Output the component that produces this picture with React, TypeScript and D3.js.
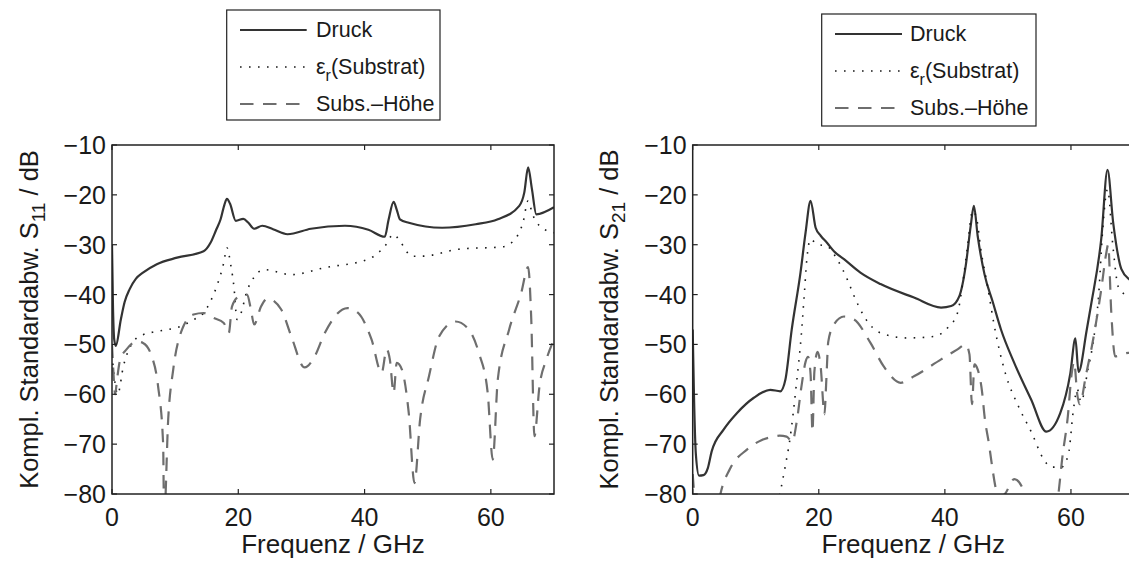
import React from 'react';
import * as d3 from 'd3';

type Pt = [number, number];

const FREQ_TICKS = [0, 20, 40, 60];
const DB_TICKS = [-10, -20, -30, -40, -50, -60, -70, -80];
const FREQ_DOMAIN: [number, number] = [0, 70];
const DB_DOMAIN: [number, number] = [-80, -10];

// ---- Left panel: S11 ----
const S11_DRUCK: Pt[] = [
  [0, -30], [0.15, -42], [0.35, -49], [0.6, -50.3], [1.4, -45], [2.0, -41.5], [2.8, -38.9], [3.8, -36.8],
  [4.9, -35.6], [7.1, -33.9], [10.3, -32.6], [14.5, -31.3], [15.6, -29.6], [16.5, -27], [17.2, -24.9],
  [17.8, -22], [18.2, -20.8], [18.7, -21.8], [19.6, -25.2], [20.8, -24.8], [21.6, -25.6], [22.5, -26.8],
  [23.8, -26.2], [25.5, -26.9], [27.8, -27.9], [31.5, -26.8], [36.9, -26.2], [40.6, -27.0], [43.2, -28.4],
  [43.8, -25], [44.6, -21.4], [45.1, -23], [45.6, -24.9], [47.0, -25.6], [52.3, -26.6], [57.6, -25.9],
  [61.1, -24.9], [64.5, -22.2], [65.3, -19.5], [65.9, -14.5], [66.5, -18.8], [67.2, -23.9], [70, -22.5],
];
const S11_EPS: Pt[] = [
  [0, -52], [0.4, -57], [0.9, -60], [1.8, -54.4], [3.4, -49.4], [5.0, -48], [7.1, -47.4], [10.8, -46.4],
  [13.0, -45], [14.5, -43.7], [15.5, -41.6], [16.6, -38.3], [17.7, -33.6], [18.2, -30.6], [18.8, -34],
  [19.3, -38.3], [19.8, -45], [20.5, -43.5], [21.2, -40], [22.5, -36.5], [24.1, -35], [28.4, -36],
  [33.7, -34.6], [40.6, -32.9], [43.2, -30.3], [44.6, -27.9], [45.6, -29.3], [47.5, -32.3], [49.1, -32.3],
  [54.9, -30.9], [61.9, -30.4], [64.0, -28.6], [65.1, -25.5], [65.9, -21.2], [66.6, -23.9], [67.7, -26.2],
  [70, -27.6],
];
const S11_HOEHE: Pt[] = [
  [0, -50], [0.2, -55], [0.5, -60], [0.8, -57], [1.3, -53], [2.3, -51], [3.9, -49.4], [4.9, -49.7],
  [6.3, -52.4], [7.3, -58.4], [8.1, -70], [8.25, -85], [8.9, -65], [9.7, -55], [11.1, -47], [12.9, -44],
  [14.5, -43.7], [16.1, -44.7], [17.7, -45.7], [18.5, -47.7], [19.0, -42.4], [20.1, -40.4], [21.4, -40],
  [22.0, -43], [22.5, -46], [23.6, -42.4], [24.6, -40.8], [26.8, -43], [28.4, -48.4], [30.5, -54.6],
  [32.1, -52.4], [33.7, -47.7], [37.3, -42.7], [39.0, -43.7], [41.1, -49], [42.7, -55.7], [43.5, -51],
  [44.0, -53], [44.6, -59.7], [45.1, -53.7], [45.9, -55], [47.0, -63.8], [47.9, -77.8], [48.8, -65],
  [50.2, -56.4], [51.8, -48.4], [54.4, -45.4], [56.5, -47], [58.1, -51.7], [59.5, -59.7], [60.3, -73.1],
  [61.1, -57], [62.9, -47], [64.8, -39.7], [65.9, -34.5], [66.4, -45], [66.9, -68.4], [67.7, -58.4],
  [68.8, -53], [70, -49],
];

// ---- Right panel: S21 ----
const S21_DRUCK: Pt[] = [
  [0, -47], [0.2, -60], [0.5, -72], [1.0, -76.3], [1.7, -76.2], [2.4, -74.8], [3.0, -71.5], [4.9, -67.1],
  [7.0, -63.8], [9.7, -60.7], [12.3, -59.1], [13.9, -59.4], [14.7, -57.1], [15.7, -47.1], [17.1, -35.6],
  [17.9, -27.6], [18.7, -21.2], [19.5, -26.6], [20.3, -28.2], [21.3, -29.6], [22.4, -31.3], [24.0, -32.9],
  [26.6, -35.6], [29.8, -37.9], [35.1, -40.6], [39.4, -42.6], [41.0, -42.3], [42.3, -40.3], [43.3, -34.3],
  [44.1, -26.2], [44.6, -22.2], [45.2, -28.2], [46.3, -36], [47.6, -41.5], [48.9, -47], [51.0, -53.7],
  [53.7, -61.1], [56.1, -67.5], [58.3, -63.8], [59.9, -55.8], [60.7, -48.8], [61.2, -55.5], [62.5, -47.1],
  [63.2, -42], [64.8, -28.9], [65.8, -15], [66.7, -25.6], [68.0, -34.9], [69.3, -37], [70, -37.5],
];
const S21_EPS: Pt[] = [
  [13.5, -82], [14.1, -78.3], [14.7, -74.3], [15.4, -69.2], [16.4, -58.5], [17.2, -48.5], [17.7, -40],
  [18.1, -33], [18.7, -28.9], [19.7, -29.9], [21.3, -30.3], [22.9, -32.9], [24.5, -36.9], [25.5, -40],
  [27.2, -44.4], [29.8, -47.7], [34.1, -48.7], [38.3, -48.4], [40.4, -46.7], [42.0, -43.7], [42.8, -38],
  [43.6, -30.3], [44.4, -23.2], [45.0, -24.5], [45.7, -30.9], [46.8, -38.5], [47.8, -46], [49.6, -55.8],
  [51.7, -62.5], [53.8, -67.8], [55.6, -72.9], [56.9, -74.6], [58.5, -74.6], [59.6, -72], [60.4, -63],
  [61.0, -59], [61.6, -61.5], [62.7, -55], [63.5, -49.7], [64.4, -40], [65.0, -27.6], [65.8, -18.9],
  [66.7, -30.9], [67.5, -38.4], [69.1, -40.4], [70, -40.8],
];
const S21_HOEHE: Pt[] = [
  [0, -76], [0.5, -82], [3.8, -84], [4.4, -80], [5.9, -75], [8.6, -71.1], [10.9, -69.2], [12.8, -68.5],
  [13.8, -68.3], [14.9, -68.5], [15.8, -69.5], [16.5, -65.5], [17.3, -58], [17.9, -53.5], [18.3, -52.5],
  [18.7, -56], [19.0, -67.5], [19.3, -55.5], [19.8, -51.5], [20.3, -54.5], [20.9, -64], [21.2, -57],
  [21.5, -49.5], [22.4, -46], [24.0, -44.4], [25.6, -45], [28.2, -49.7], [30.3, -54.4], [33.0, -57.7],
  [35.1, -56.4], [39.4, -53], [42.0, -51], [43.3, -50], [43.9, -52], [44.3, -62], [44.7, -54],
  [45.2, -55], [45.9, -59.5], [46.3, -64.5], [47.0, -70], [47.5, -74.5], [48.1, -79], [48.6, -80.5],
  [49.5, -80], [51.0, -77], [52.2, -78.5], [53.0, -82], [57.5, -85], [58.1, -79], [58.6, -73],
  [59.5, -64.5], [60.1, -56], [60.5, -53.5], [61.0, -60], [61.4, -62], [62.4, -56], [63.3, -50.5],
  [64.8, -39], [65.6, -31.7], [65.9, -30], [66.4, -43.7], [67.0, -52.4], [69.1, -51.7], [70, -52],
];

const W = 1129;
const H = 563;
const FONT = "'Liberation Sans', Arial, Helvetica, sans-serif";
const TOP = 145;
const BOTTOM = 494;

type LegendSpec = { x: number; y: number; w: number; h: number; lx1: number; lx2: number; tx: number; rows: number[] };

const SOLID = { stroke: '#333333', width: 2.2, dash: undefined as string | undefined };
const DOTTED = { stroke: '#1a1a1a', width: 1.6, dash: '1.6 7.4' };
const DASHED = { stroke: '#6e6e6e', width: 2.2, dash: '13.5 9.5' };

function Panel(props: {
  id: string; left: number; right: number; sub: string;
  druck: Pt[]; eps: Pt[]; hoehe: Pt[]; legend: LegendSpec; ylabX: number;
}) {
  const { id, left, right, sub, druck, eps, hoehe, legend, ylabX } = props;
  const x = d3.scaleLinear().domain(FREQ_DOMAIN).range([left, right]);
  const y = d3.scaleLinear().domain(DB_DOMAIN).range([BOTTOM, TOP]);
  const line = d3.line<Pt>().x(d => x(d[0])).y(d => y(d[1])).curve(d3.curveMonotoneX);
  const styles = [SOLID, DOTTED, DASHED];
  const series = [druck, eps, hoehe];
  const cx = (left + right) / 2;
  const cy = (TOP + BOTTOM) / 2;
  return (
    <g>
      <defs>
        <clipPath id={id}>
          <rect x={left} y={TOP} width={right - left} height={BOTTOM - TOP} />
        </clipPath>
      </defs>
      <g clipPath={`url(#${id})`}>
        {series.map((s, i) => (
          <path key={i} d={line(s) || ''} fill="none" stroke={styles[i].stroke}
            strokeWidth={styles[i].width} strokeDasharray={styles[i].dash}
            strokeLinejoin="round" />
        ))}
      </g>
      <rect x={left} y={TOP} width={right - left} height={BOTTOM - TOP} fill="none" stroke="#222" strokeWidth={1.5} />
      {FREQ_TICKS.map(t => (
        <g key={'x' + t}>
          <line x1={x(t)} x2={x(t)} y1={BOTTOM} y2={BOTTOM - 5} stroke="#222" strokeWidth={1.2} />
          <line x1={x(t)} x2={x(t)} y1={TOP} y2={TOP + 5} stroke="#222" strokeWidth={1.2} />
          <text x={x(t)} y={526} textAnchor="middle" fontFamily={FONT} fontSize={25} fill="#1a1a1a">{String(t)}</text>
        </g>
      ))}
      {DB_TICKS.map(t => (
        <g key={'y' + t}>
          <line x1={left} x2={left + 5} y1={y(t)} y2={y(t)} stroke="#222" strokeWidth={1.2} />
          <line x1={right} x2={right - 5} y1={y(t)} y2={y(t)} stroke="#222" strokeWidth={1.2} />
          <text x={left - 6} y={y(t) + 9} textAnchor="end" fontFamily={FONT} fontSize={25} fill="#1a1a1a">
            {(t < 0 ? '\u2212' : '') + Math.abs(t)}
          </text>
        </g>
      ))}
      <text x={cx} y={553} textAnchor="middle" fontFamily={FONT} fontSize={26} fill="#1a1a1a">Frequenz / GHz</text>
      <text transform={`translate(${ylabX},${cy}) rotate(-90)`} textAnchor="middle" fontFamily={FONT} fontSize={25.5} fill="#1a1a1a">
        Kompl. Standardabw. S<tspan dy={7} fontSize={19}>{sub}</tspan><tspan dy={-7}> / dB</tspan>
      </text>
      <rect x={legend.x} y={legend.y} width={legend.w} height={legend.h} fill="#fff" stroke="#222" strokeWidth={1.2} />
      {styles.map((st, i) => (
        <g key={'l' + i}>
          <line x1={legend.lx1} x2={legend.lx2} y1={legend.rows[i]} y2={legend.rows[i]} stroke={st.stroke}
            strokeWidth={st.width} strokeDasharray={st.dash} />
          <text x={legend.tx} y={legend.rows[i] + 7} fontFamily={FONT} fontSize={21.5} fill="#1a1a1a">
            {i === 0 && 'Druck'}
            {i === 1 && (<>ε<tspan dy={7} fontSize={16}>r</tspan><tspan dy={-7}>(Substrat)</tspan></>)}
            {i === 2 && 'Subs.–Höhe'}
          </text>
        </g>
      ))}
    </g>
  );
}

export default function App() {
  return (
    <svg width={W} height={H} viewBox={`0 0 ${W} ${H}`}
      style={{ position: 'absolute', left: 0, top: 0, display: 'block', background: '#fff' }}>
      <rect x={0} y={0} width={W} height={H} fill="#fff" />
      <Panel id="clipL" left={112} right={554} sub="11" druck={S11_DRUCK} eps={S11_EPS} hoehe={S11_HOEHE}
        ylabX={38}
        legend={{ x: 226.7, y: 10, w: 213.3, h: 110, lx1: 240, lx2: 306.7, tx: 316, rows: [30, 67, 104] }} />
      <Panel id="clipR" left={692.7} right={1134} sub="21" druck={S21_DRUCK} eps={S21_EPS} hoehe={S21_HOEHE}
        ylabX={618}
        legend={{ x: 821.7, y: 14, w: 214.3, h: 112, lx1: 835, lx2: 902, tx: 910, rows: [34, 71, 108] }} />
    </svg>
  );
}
